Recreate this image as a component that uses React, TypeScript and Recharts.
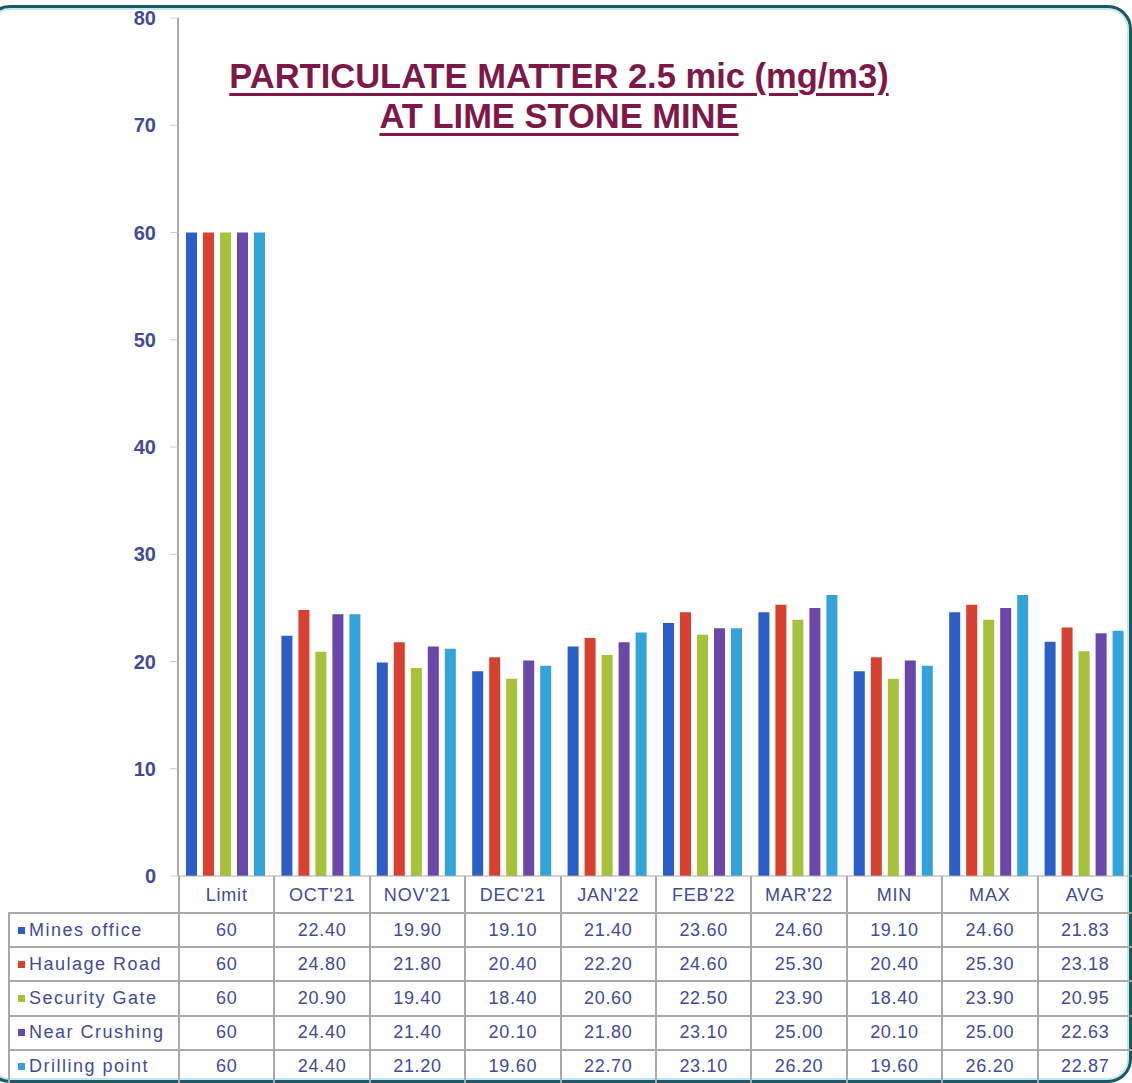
import React from "react";
import { BarChart, Bar, XAxis, YAxis } from "recharts";

const categories = ["Limit", "OCT'21", "NOV'21", "DEC'21", "JAN'22", "FEB'22", "MAR'22", "MIN", "MAX", "AVG"];
const seriesNames = ["Mines office", "Haulage Road", "Security Gate", "Near Crushing", "Drilling point"];
const minesOffice = [60, 22.4, 19.9, 19.1, 21.4, 23.6, 24.6, 19.1, 24.6, 21.83];
const haulageRoad = [60, 24.8, 21.8, 20.4, 22.2, 24.6, 25.3, 20.4, 25.3, 23.18];
const securityGate = [60, 20.9, 19.4, 18.4, 20.6, 22.5, 23.9, 18.4, 23.9, 20.95];
const nearCrushing = [60, 24.4, 21.4, 20.1, 21.8, 23.1, 25.0, 20.1, 25.0, 22.63];
const drillingPoint = [60, 24.4, 21.2, 19.6, 22.7, 23.1, 26.2, 19.6, 26.2, 22.87];
const yTicks = [0, 10, 20, 30, 40, 50, 60, 70, 80];
const titleLines = ["PARTICULATE MATTER 2.5 mic (mg/m3)", "AT LIME STONE MINE"];

const seriesValues = [minesOffice, haulageRoad, securityGate, nearCrushing, drillingPoint];
const seriesKeys = ["s0", "s1", "s2", "s3", "s4"];
const colors = ["#2b5ec6", "#d8412f", "#a5c23a", "#6a47a8", "#34a3da"];

const data = categories.map((c, i) => {
  const row: any = { name: c };
  seriesKeys.forEach((k, j) => (row[k] = seriesValues[j][i]));
  return row;
});

const TEXT = "#434b98";
const GRID = "#a9a9a9";
const FONT = "'Liberation Sans', Arial, sans-serif";

const PLOT_LEFT = 178;
const PLOT_TOP = 18;
const PLOT_BOTTOM = 876;
const W = 1132;
const H = 1083;
const COLW = (W - PLOT_LEFT) / categories.length;
const HEADER_H = 36;
const ROW_H = (H - PLOT_BOTTOM - HEADER_H) / seriesNames.length;

function fmt(v: number, i: number) {
  return i === 0 ? String(v) : v.toFixed(2);
}

export default function App() {
  return (
    <div style={{ position: "absolute", left: 0, top: 0, width: W, height: H, overflow: "hidden", background: "#fff", fontFamily: FONT }}>
      <div
        style={{
          position: "absolute",
          left: -14,
          top: 5,
          width: W + 14,
          height: H - 5,
          boxSizing: "border-box",
          border: "3px solid #1d5863",
          borderRadius: 24,
          boxShadow: "inset 0 0 0 2px #bfe9f2",
        }}
      />
      <div style={{ position: "absolute", left: 0, top: 0 }}>
        <BarChart
          width={W}
          height={PLOT_BOTTOM + HEADER_H}
          data={data}
          margin={{ top: PLOT_TOP, right: 0, left: 0, bottom: 0 }}
          barSize={11}
          barGap={6}
        >
          <XAxis dataKey="name" height={HEADER_H} tick={false} tickLine={false} axisLine={{ stroke: GRID }} />
          <YAxis
            width={PLOT_LEFT}
            domain={[0, 80]}
            ticks={yTicks}
            interval={0}
            tickSize={8}
            tickMargin={14}
            axisLine={{ stroke: GRID, strokeWidth: 2 }}
            tickLine={{ stroke: "#c8c8c8" }}
            tick={{ fill: TEXT, fontSize: 20, fontWeight: 700, fontFamily: FONT }}
          />
          {seriesKeys.map((k, j) => (
            <Bar key={k} dataKey={k} name={seriesNames[j]} fill={colors[j]} isAnimationActive={false} />
          ))}
        </BarChart>
      </div>
      <div
        style={{
          position: "absolute",
          left: 0,
          width: 1118,
          top: 56,
          textAlign: "center",
          color: "#7e1849",
          fontWeight: 700,
          fontSize: 34.5,
          lineHeight: "40px",
          textDecoration: "underline",
          textDecorationThickness: "3px",
          textUnderlineOffset: "5px",
        }}
      >
        {titleLines.map((t) => (
          <div key={t}>{t}</div>
        ))}
      </div>
      {/* data table */}
      <div style={{ position: "absolute", left: 0, top: PLOT_BOTTOM, width: W }}>
        <div style={{ display: "flex", height: HEADER_H }}>
          <div style={{ width: PLOT_LEFT }} />
          {categories.map((c) => (
            <div
              key={c}
              style={{
                width: COLW,
                boxSizing: "border-box",
                borderLeft: `2px solid ${GRID}`,
                color: TEXT,
                fontSize: 18,
                letterSpacing: 0.8,
                display: "flex",
                alignItems: "center",
                justifyContent: "center",
                paddingTop: 2,
              }}
            >
              {c}
            </div>
          ))}
        </div>
        {seriesNames.map((s, j) => (
          <div key={s} style={{ display: "flex", height: ROW_H }}>
            <div
              style={{
                marginLeft: 8,
                width: PLOT_LEFT - 8,
                boxSizing: "border-box",
                borderTop: `2px solid ${GRID}`,
                borderLeft: `2px solid ${GRID}`,
                color: TEXT,
                fontSize: 18,
                letterSpacing: 1.5,
                display: "flex",
                alignItems: "center",
                paddingLeft: 8,
              }}
            >
              <span style={{ display: "inline-block", width: 7, height: 7, background: colors[j], marginRight: 4 }} />
              {s}
            </div>
            {categories.map((c, i) => (
              <div
                key={c}
                style={{
                  width: COLW,
                  boxSizing: "border-box",
                  borderTop: `2px solid ${GRID}`,
                  borderLeft: `2px solid ${GRID}`,
                  color: TEXT,
                  fontSize: 18,
                  letterSpacing: 0.7,
                  display: "flex",
                  alignItems: "center",
                  justifyContent: "center",
                }}
              >
                {fmt(seriesValues[j][i], i)}
              </div>
            ))}
          </div>
        ))}
      </div>
    </div>
  );
}
